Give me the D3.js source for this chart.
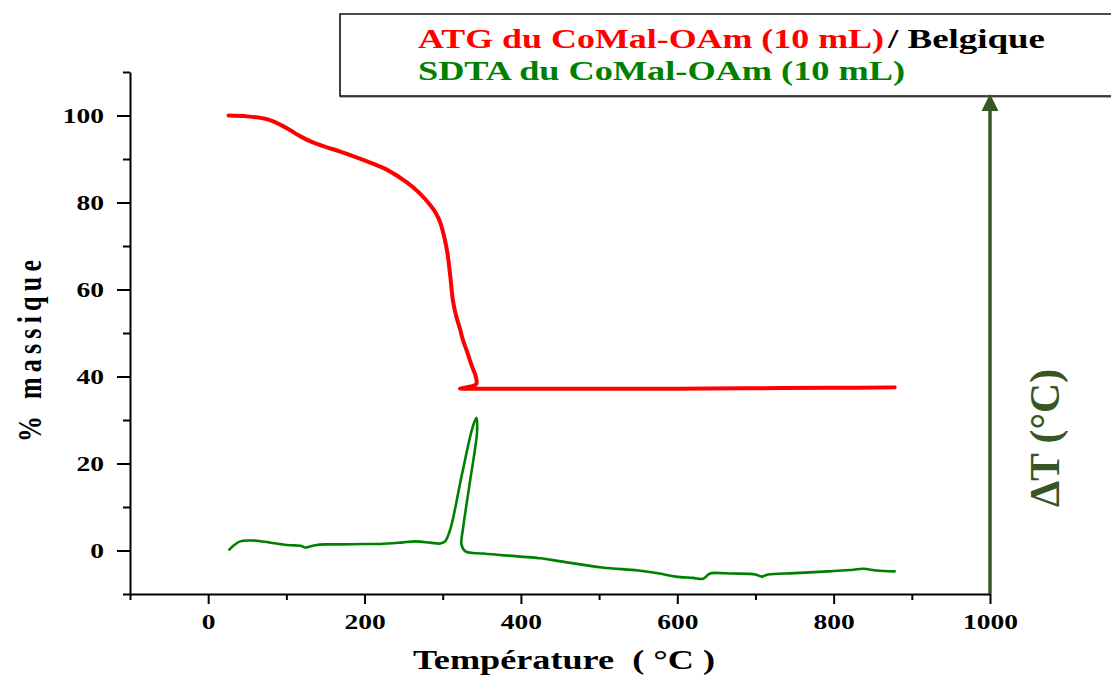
<!DOCTYPE html>
<html>
<head>
<meta charset="utf-8">
<script src="https://cdn.jsdelivr.net/npm/d3@7/dist/d3.min.js"></script>
<style>
  html, body { margin: 0; padding: 0; background: #fff; }
  svg { display: block; }
  text { font-family: "Liberation Serif", "Times New Roman", serif; }
</style>
</head>
<body>
<svg id="chart" width="1111" height="675"></svg>
<script>
// ATG curve: temperature (°C) and remaining mass (%)
const atgTemp = [26, 50, 76, 92, 105, 118, 134, 150, 169, 186, 204, 229, 255, 270, 284, 292, 297, 302, 306, 310, 313, 317, 322, 326, 331, 335, 339, 342, 343, 336, 322, 330, 400, 500, 600, 700, 800, 878];
const atgMass = [100, 99.8, 99.1, 97.9, 96.6, 95.2, 93.8, 92.8, 91.7, 90.6, 89.4, 87.5, 84.5, 82.2, 79.4, 77.3, 75.3, 72.0, 68.4, 62.5, 57.5, 54.0, 51.0, 48.3, 45.8, 43.6, 41.6, 40.2, 38.3, 37.7, 37.2, 37.2, 37.2, 37.2, 37.2, 37.3, 37.4, 37.5];

// SDTA curve: temperature (°C) and thermal signal
const sdtaTemp = [27, 33, 41, 54, 65, 80, 95, 105, 118, 124, 130, 137, 150, 169, 200, 220, 246, 265, 284, 297, 303, 310, 324, 338, 343, 344, 335, 326, 324, 329, 352, 399, 425, 451, 504, 550, 577, 598, 620, 633, 640, 644, 670, 700, 708, 716, 750, 793, 820, 838, 855, 878];
const sdtaSignal = [0.2, 1.2, 2.1, 2.3, 2.2, 1.8, 1.4, 1.2, 1.1, 0.7, 0.9, 1.2, 1.4, 1.4, 1.5, 1.5, 1.8, 2.1, 1.8, 1.6, 2.1, 5.1, 17, 28.2, 30.5, 27.5, 16, 5.1, 1.4, -0.2, -0.7, -1.4, -1.8, -2.5, -3.9, -4.6, -5.3, -6.0, -6.3, -6.5, -5.5, -5.2, -5.3, -5.5, -6.0, -5.5, -5.2, -4.8, -4.5, -4.2, -4.6, -4.8];

// Axis ticks
const xMajorTicks = [0, 200, 400, 600, 800, 1000];
const xMinorTicks = [-100, 100, 300, 500, 700, 900];
const yMajorTicks = [0, 20, 40, 60, 80, 100];
const yMinorTicks = [-10, 10, 30, 50, 70, 90, 110];

// Labels
const legendAtg = "ATG du CoMal-OAm (10 mL)";
const legendCountry = "/ Belgique";
const legendSdta = "SDTA du CoMal-OAm (10 mL)";
const xTitle = "Température\u00a0 ( °C )";
const yTitle = "% massique";
const rightTitle = "ΔT (°C)";

const RED = "#ff0000";
const GREEN = "#008000";
const DARK_GREEN = "#375623";

const svg = d3.select("#chart");

const x = d3.scaleLinear().domain([-100, 1000]).range([130, 990]);
const y = d3.scaleLinear().domain([-10, 110]).range([594, 72]);

const STRETCH = 1.25;

// Legend box (open on the right side)
const legend = svg.append("g");
legend.append("path")
  .attr("d", "M1120,14 H340 V96 H1120")
  .attr("fill", "#fff")
  .attr("stroke", "#999")
  .attr("stroke-width", 1.5)
  .attr("transform", "translate(1,1)");
legend.append("path")
  .attr("d", "M1120,14 H340 V96 H1120")
  .attr("fill", "#fff")
  .attr("stroke", "#111")
  .attr("stroke-width", 1.6);

legend.append("text")
  .attr("x", 418).attr("y", 48)
  .attr("font-size", 28).attr("font-weight", "bold")
  .attr("fill", RED)
  .attr("textLength", 466).attr("lengthAdjust", "spacingAndGlyphs")
  .text(legendAtg);
legend.append("text")
  .attr("x", 888).attr("y", 48)
  .attr("font-size", 28).attr("font-weight", "bold")
  .attr("fill", "#000")
  .attr("textLength", 157).attr("lengthAdjust", "spacingAndGlyphs")
  .text(legendCountry);
legend.append("text")
  .attr("x", 418).attr("y", 80)
  .attr("font-size", 28).attr("font-weight", "bold")
  .attr("fill", GREEN)
  .attr("textLength", 487).attr("lengthAdjust", "spacingAndGlyphs")
  .text(legendSdta);

// X axis
const xAxisG = svg.append("g").attr("transform", `translate(0,${y(-10)})`);
xAxisG.append("g")
  .call(d3.axisBottom(x).tickValues(xMinorTicks).tickSize(6).tickSizeOuter(0).tickFormat(""))
  .call(g => g.select(".domain").remove());
xAxisG.append("g")
  .call(d3.axisBottom(x).tickValues(xMajorTicks).tickSize(10).tickSizeOuter(0).tickFormat(d3.format("d")))
  .call(g => g.selectAll("text")
    .attr("y", 35).attr("dy", 0)
    .attr("transform", `scale(${STRETCH},1)`)
    .attr("font-size", 22).attr("font-weight", "bold")
    .attr("font-family", "Liberation Serif, Times New Roman, serif")
    .attr("fill", "#000"));

// Y axis
const yAxisG = svg.append("g").attr("transform", `translate(${x(-100)},0)`);
yAxisG.append("g")
  .call(d3.axisLeft(y).tickValues(yMinorTicks).tickSize(7).tickSizeOuter(0).tickFormat(""))
  .call(g => g.select(".domain").remove());
yAxisG.append("g")
  .call(d3.axisLeft(y).tickValues(yMajorTicks).tickSize(13).tickSizeOuter(0).tickFormat(d3.format("d")))
  .call(g => g.selectAll("text")
    .attr("x", -26 / STRETCH)
    .attr("transform", `scale(${STRETCH},1)`)
    .attr("font-size", 22).attr("font-weight", "bold")
    .attr("font-family", "Liberation Serif, Times New Roman, serif")
    .attr("fill", "#000"));

svg.selectAll(".domain, .tick line")
  .attr("stroke", "#000")
  .attr("stroke-width", 2);

// Axis titles
svg.append("text")
  .attr("x", 413).attr("y", 669)
  .attr("font-size", 27).attr("font-weight", "bold")
  .attr("textLength", 302).attr("lengthAdjust", "spacingAndGlyphs")
  .style("white-space", "pre")
  .text(xTitle);

svg.append("g")
  .attr("transform", "translate(41,351) scale(1.3,1) rotate(-90)")
  .append("text")
  .attr("x", -91).attr("y", 0)
  .attr("font-size", 26).attr("font-weight", "bold")
  .attr("textLength", 182).attr("lengthAdjust", "spacing")
  .text(yTitle);

svg.append("g")
  .attr("transform", "translate(1059,438) scale(1.1,1) rotate(-90)")
  .append("text")
  .attr("x", -69).attr("y", 0)
  .attr("font-size", 38).attr("font-weight", "bold")
  .attr("fill", DARK_GREEN)
  .attr("textLength", 138).attr("lengthAdjust", "spacingAndGlyphs")
  .text(rightTitle);

// ΔT axis arrow
const arrowX = x(1000);
svg.append("line")
  .attr("x1", arrowX).attr("x2", arrowX)
  .attr("y1", y(-10)).attr("y2", 108)
  .attr("stroke", DARK_GREEN).attr("stroke-width", 3.5);
svg.append("path")
  .attr("d", `M${arrowX},94 L${arrowX - 8.5},111 L${arrowX + 8.5},111 Z`)
  .attr("fill", DARK_GREEN);

// Curves
const line = d3.line()
  .x(d => x(d[0]))
  .y(d => y(d[1]))
  .curve(d3.curveCatmullRom.alpha(0.5));

const sdtaPoints = sdtaTemp.map((t, i) => [t, sdtaSignal[i]]);
const atgPoints = atgTemp.map((t, i) => [t, atgMass[i]]);

svg.append("path")
  .datum(sdtaPoints)
  .attr("d", line)
  .attr("fill", "none")
  .attr("stroke", GREEN)
  .attr("stroke-width", 2.6)
  .attr("stroke-linejoin", "round")
  .attr("stroke-linecap", "round");

svg.append("path")
  .datum(atgPoints)
  .attr("d", line)
  .attr("fill", "none")
  .attr("stroke", RED)
  .attr("stroke-width", 4)
  .attr("stroke-linejoin", "round")
  .attr("stroke-linecap", "round");
</script>
</body>
</html>
